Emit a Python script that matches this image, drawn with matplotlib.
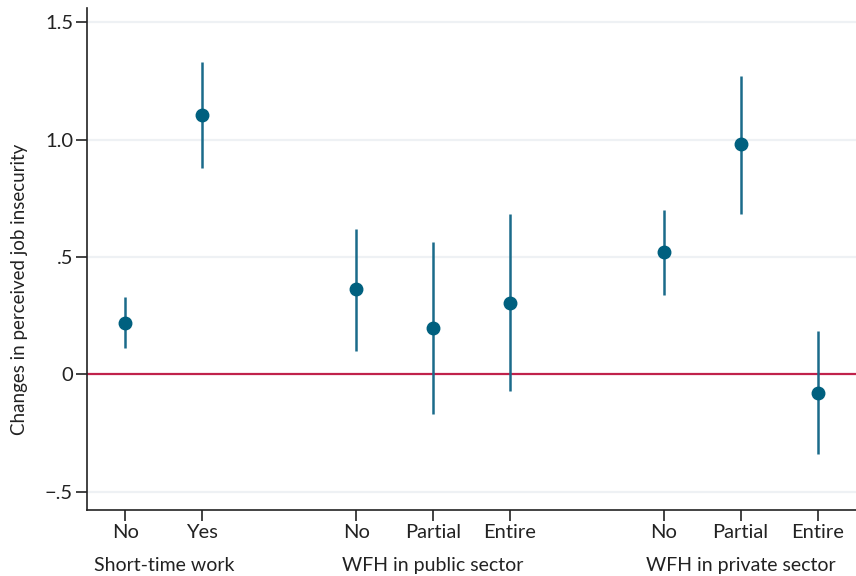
import numpy as np
import matplotlib
matplotlib.use('agg')
import matplotlib.pyplot as plt

# values
groups = ["Short-time work", "WFH in public sector", "WFH in private sector"]
cat_labels = ["No", "Yes", "No", "Partial", "Entire", "No", "Partial", "Entire"]
group_of = [0, 0, 1, 1, 1, 2, 2, 2]
estimate = [0.221, 1.106, 0.362, 0.196, 0.306, 0.523, 0.979, -0.077]
ci_low = [0.111, 0.877, 0.098, -0.170, -0.072, 0.340, 0.685, -0.340]
ci_high = [0.328, 1.332, 0.621, 0.562, 0.681, 0.702, 1.272, 0.187]

y_ticks = [-0.5, 0, 0.5, 1.0, 1.5]
y_ticklabels = ["\u2212.5", "0", ".5", "1.0", "1.5"]

plt.rcParams['font.family'] = ['Lato', 'DejaVu Sans']

# positions: one empty slot between groups
xpos = []
pos = 1
for i, g in enumerate(group_of):
    if i > 0 and g != group_of[i - 1]:
        pos += 1
    xpos.append(pos)
    pos += 1
xpos = np.array(xpos)

fig = plt.figure(figsize=(8.56, 5.76), dpi=100)
ax = fig.add_axes([0.1016, 0.1146, 0.8984, 0.8715])

for y in y_ticks:
    if y != 0:
        ax.axhline(y, color="#eef1f4", lw=1.6, zorder=0)
ax.axhline(0, color="#c0224b", lw=1.6, zorder=1)

ax.vlines(xpos, ci_low, ci_high, color="#1a6b8a", lw=1.8, zorder=2)
ax.plot(xpos, estimate, "o", color="#00607f", ms=9, zorder=3)

ax.set_xlim(0.5, 10.5)
ax.set_ylim(-0.577, 1.56)
ax.set_yticks(y_ticks)
ax.set_yticklabels(y_ticklabels, fontsize=14.5, color="#222222")
ax.set_xticks(xpos)
ax.set_xticklabels(cat_labels, fontsize=14.5, color="#222222")
ax.tick_params(axis="both", length=8, width=1.2, color="#222222", pad=2)

for s in ["top", "right"]:
    ax.spines[s].set_visible(False)
for s in ["left", "bottom"]:
    ax.spines[s].set_linewidth(1.2)
    ax.spines[s].set_color("#222222")

# group labels under the category ticks
for g, name in enumerate(groups):
    center = xpos[np.array(group_of) == g].mean()
    ax.text(center, -0.093, name, transform=ax.get_xaxis_transform(),
            ha="center", va="top", fontsize=14, color="#222222")

ax.set_ylabel("Changes in perceived job insecurity", fontsize=13.5, color="#222222")
ax.yaxis.set_label_coords(-0.077, 0.44)

fig.savefig("out.png", dpi=100)
